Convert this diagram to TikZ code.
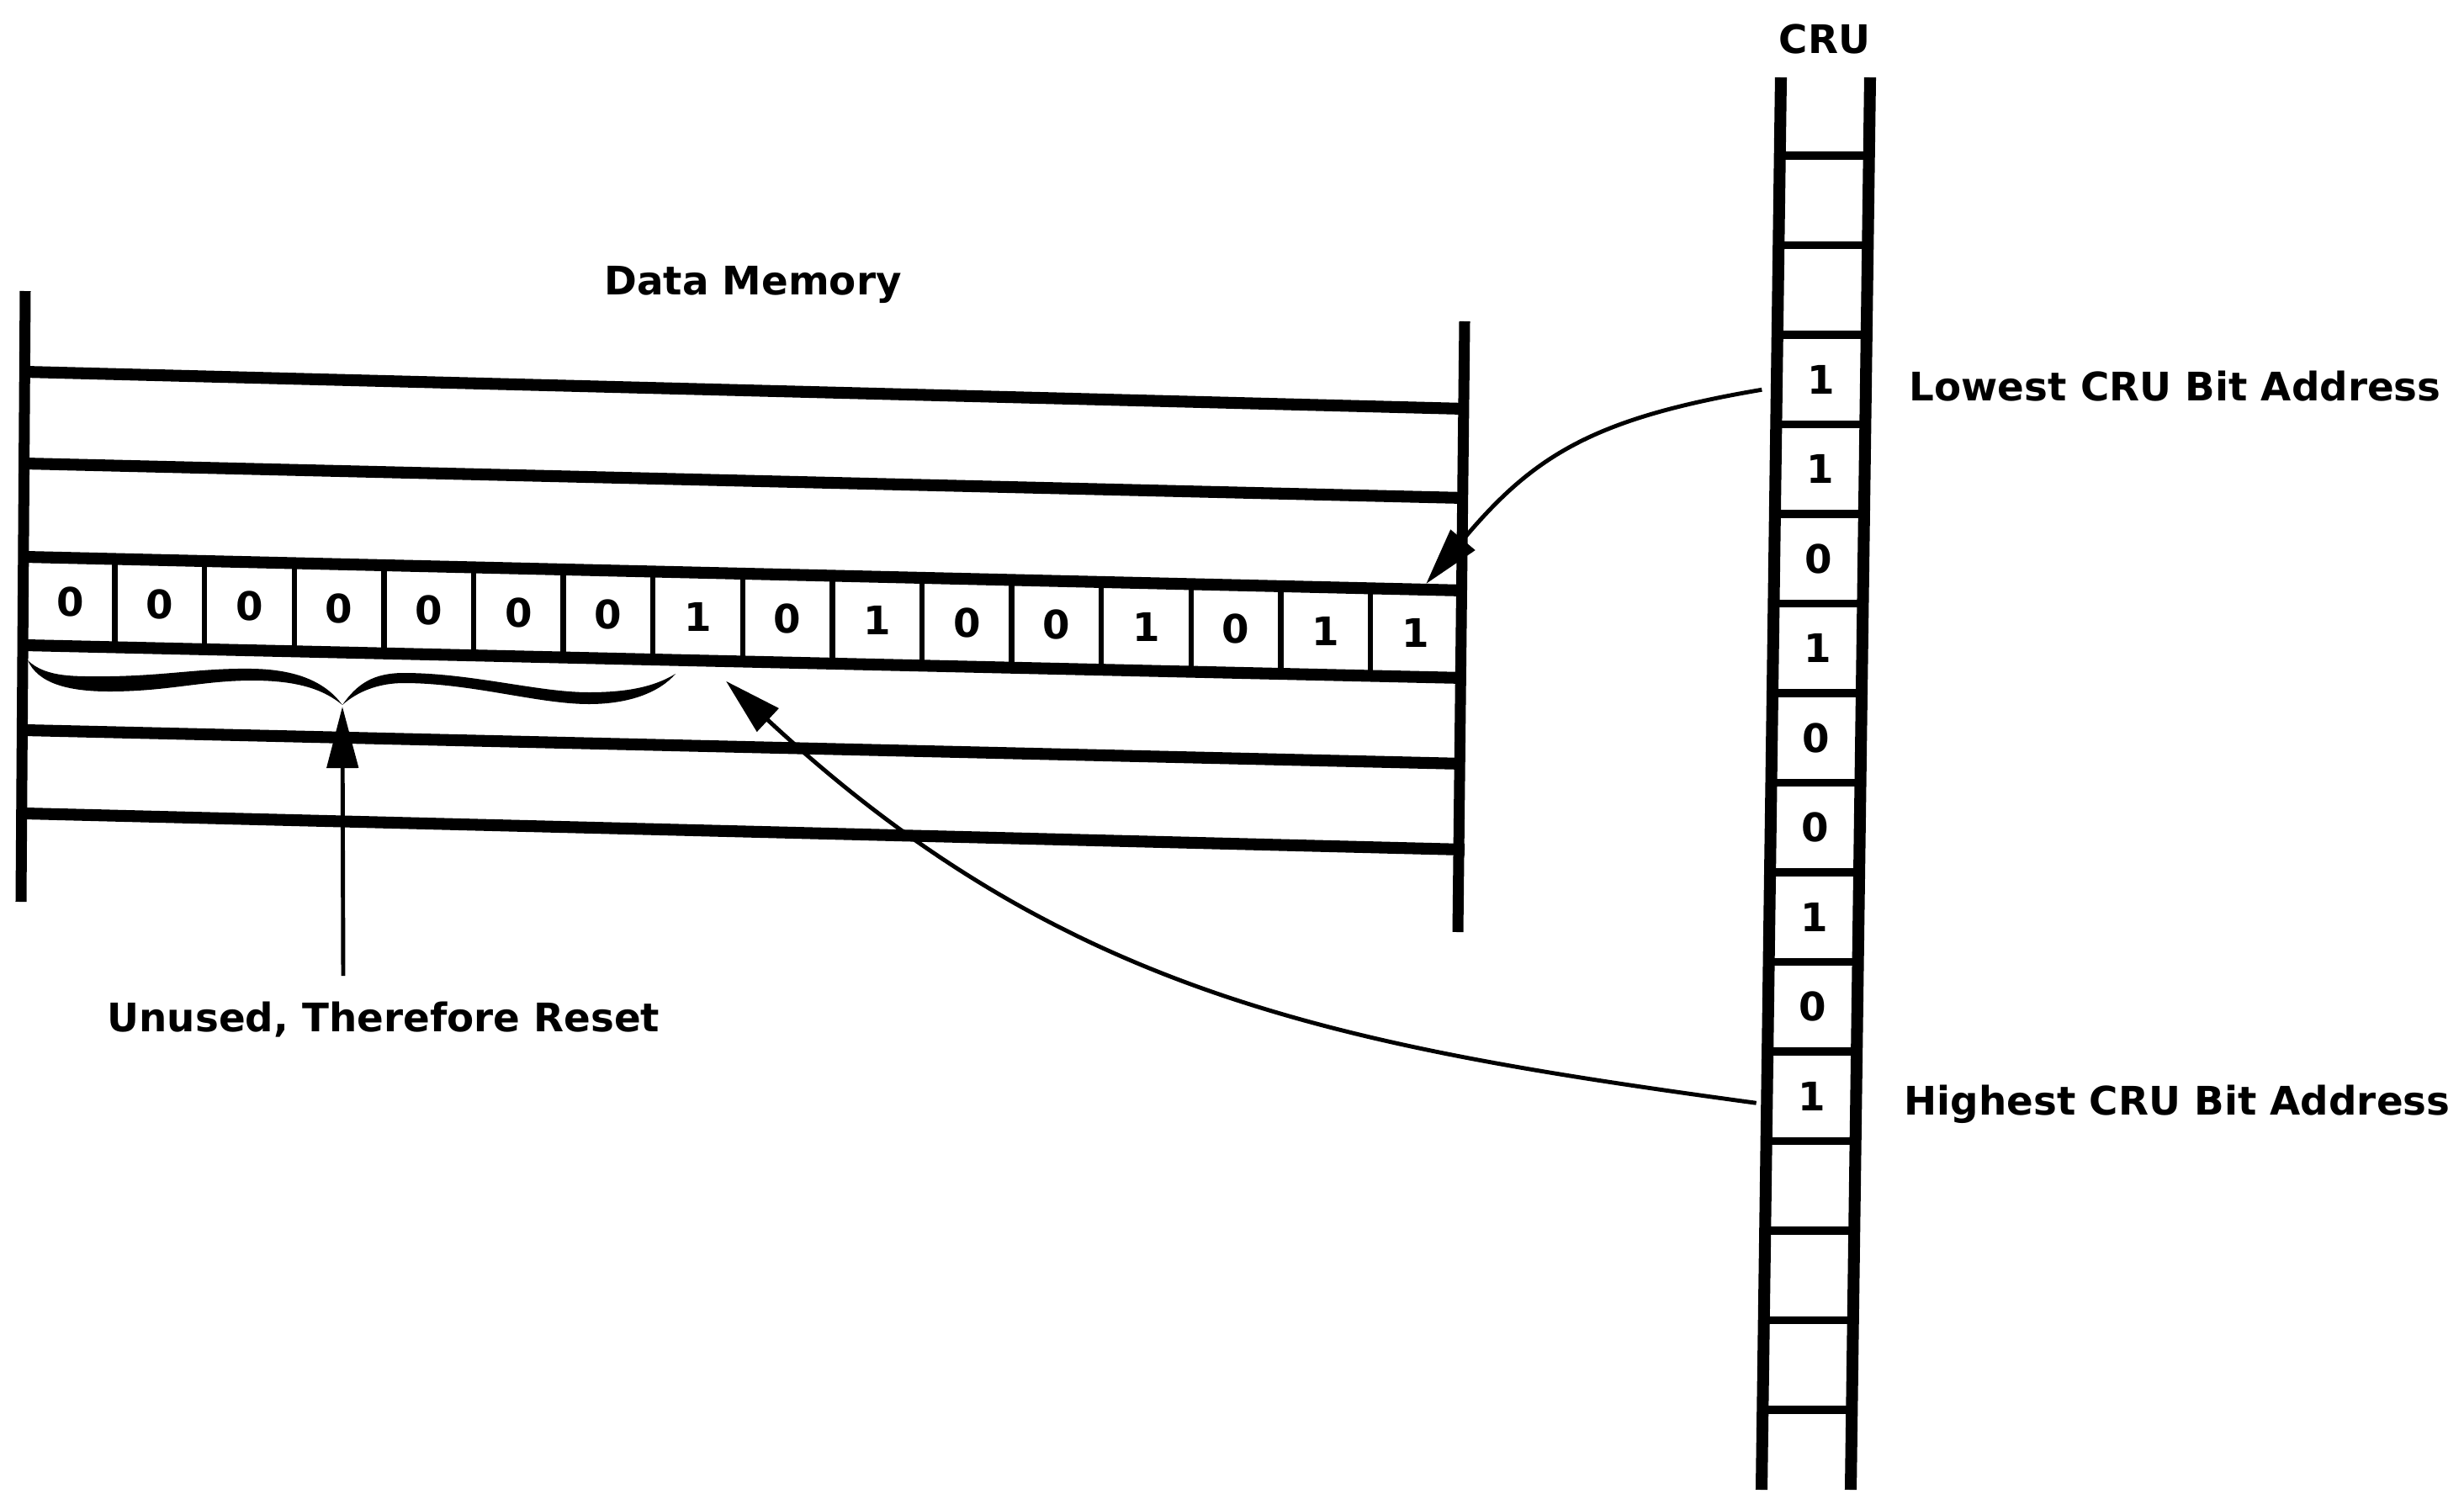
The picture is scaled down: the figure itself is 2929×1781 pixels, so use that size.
\documentclass[tikz,border=0pt]{standalone}
\usepackage{fontspec}
\setmainfont{DejaVu Sans}
\usetikzlibrary{arrows.meta,calc}
\begin{document}
\begin{tikzpicture}[x=0.01cm,y=-0.01cm,
  mem/.style={line width=4pt},
  memv/.style={line width=3.7pt},
  div/.style={line width=1.8pt},
  crul/.style={line width=4pt},
  crud/.style={line width=2.6pt},
  lab/.style={font=\bfseries\fontsize{13.3pt}{16pt}\selectfont, inner sep=0pt},
  bit/.style={lab, minimum width=1.066cm, minimum height=1.04cm},
  link/.style={line width=1.4pt, -{Triangle[length=0.68cm,width=0.37cm]}},
]
\useasboundingbox (0,0) rectangle (2929,1781);

% ---- Data memory ----
\node[lab, anchor=base] (dm) at (895,350) {Data Memory};
\draw[memv] (30,346) -- (25,1072);
\draw[memv] (1741,382) -- (1733,1108);
\draw[mem] (30,442) -- (1741,486);
\draw[mem] (30,551) -- (1741,592);
\draw[mem] (30,662) -- (1741,702);
\draw[mem] (30,767) -- (1741,806);
\draw[mem] (30,868) -- (1741,908);
\draw[mem] (30,967) -- (1741,1010);

\foreach \k in {1,...,15} {
  \pgfmathsetmacro\xx{30+106.6*\k}
  \pgfmathsetmacro\ya{662+0.02338*(\xx-30)}
  \pgfmathsetmacro\yb{767+0.02279*(\xx-30)}
  \draw[div] (\xx,\ya) -- (\xx,\yb);
}
\foreach \v [count=\i] in {0,0,0,0,0,0,0,1,0,1,0,0,1,0,1,1} {
  \pgfmathsetmacro\xx{30+106.6*(\i-0.5)}
  \pgfmathsetmacro\yy{714.5+0.02308*(\xx-30)}
  \node[bit] (b\i) at (\xx,\yy) {\v};
}

% ---- brace ----
\fill (33,785) .. controls (55,806) and (90,804) .. (130,804)
  .. controls (200,803) and (240,794) .. (300,795)
  .. controls (360,796) and (390,815) .. (407,838)
  .. controls (425,812) and (445,800) .. (480,800)
  .. controls (560,800) and (640,823) .. (700,823)
  .. controls (750,823) and (780,815) .. (803,801)
  .. controls (785,822) and (750,837) .. (700,837)
  .. controls (640,837) and (560,812) .. (480,812)
  .. controls (450,812) and (425,822) .. (407,838)
  .. controls (385,820) and (355,809) .. (300,809)
  .. controls (240,809) and (200,822) .. (130,822)
  .. controls (80,822) and (45,812) .. (33,785) -- cycle;
\coordinate (bt) at (407,840);
\coordinate (ua) at (408,1160);
\draw[link, -{Triangle[length=0.73cm,width=0.37cm]}] (ua) -- (bt);
\node[lab, anchor=base west] (unused) at (127,1226) {Unused, Therefore Reset};

% ---- CRU ----
\node[lab, anchor=base] (crut) at (2169,63) {CRU};
\draw[crul] (2117,92) -- (2094,1771);
\draw[crul] (2223,92) -- (2200,1771);
\foreach \k in {0,...,14} {
  \pgfmathsetmacro\yy{185+106.5*\k}
  \pgfmathsetmacro\xl{2117-0.0137*(\yy-92)}
  \draw[crud] (\xl,\yy) -- ++(106,0);
}
\foreach \j/\v in {1/{},2/{},3/1,4/1,5/0,6/1,7/0,8/0,9/1,10/0,11/1,12/{},13/{},14/{}} {
  \pgfmathsetmacro\yy{131.75+106.5*\j}
  \pgfmathsetmacro\xx{2170-0.0137*(\yy-92)}
  \node[bit, minimum width=1.06cm, minimum height=1.065cm] (c\j) at (\xx,\yy) {\v};
}
\node[lab, anchor=base west] (low) at (2269,476) {Lowest CRU Bit Address};
\node[lab, anchor=base west] (high) at (2263,1325) {Highest CRU Bit Address};

% ---- connectors ----
\draw[link] ($(c3.west)+(-17,12)$) .. controls +(-200,34) and +(128,-153) .. ($(b16.north)+(13,-6)$);
\draw[link] ($(c11.west)+(-12,8)$) .. controls +(-500,-68) and +(400,372) .. ($(b8.south)+(33.5,24)$);
\end{tikzpicture}
\end{document}
